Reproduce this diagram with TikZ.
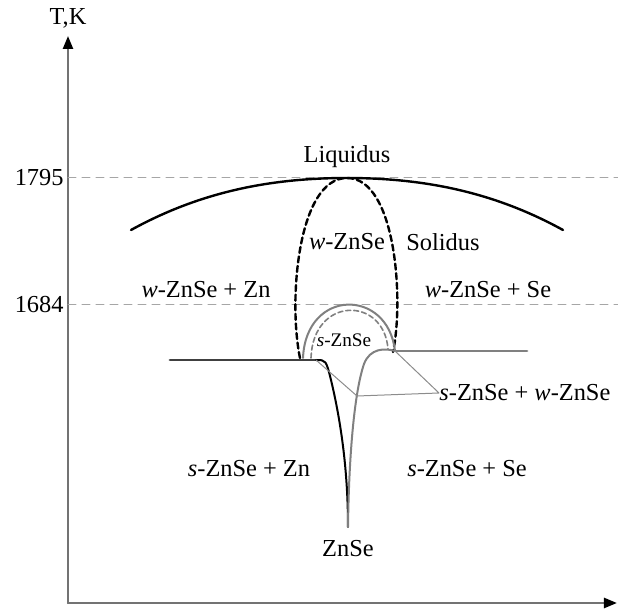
\documentclass[tikz,border=0pt]{standalone}
\usepackage{fontspec}
\setmainfont{Liberation Serif}
\usetikzlibrary{arrows.meta}
\begin{document}
\begin{tikzpicture}[x=0.5pt,y=-0.5pt,line cap=round,line join=round,
  lbl/.style={font=\fontsize{12.2}{14}\selectfont,inner sep=0pt},
  small/.style={font=\fontsize{9.6}{11}\selectfont,inner sep=0pt},
  axis/.style={draw=black!55,line width=1.2pt,-{Triangle[length=6.5pt,width=5pt,fill=black,color=black]}},
  guide/.style={draw=black!35,line width=0.5pt,dash pattern=on 4pt off 3pt},
  tieline/.style={draw=black!45,line width=0.5pt}]
  \useasboundingbox (0,0) rectangle (618,610);

  % axes
  \coordinate (origin) at (68,603);
  \coordinate (ytip) at (68,36);
  \coordinate (xtip) at (617,603);
  \draw[axis] (origin) -- (ytip);
  \draw[axis] (origin) -- (xtip);
  \node[lbl] (tk) at (68,18) {T,K};

  \node[lbl,anchor=east] (t1795) at (64,178) {1795};
  \node[lbl,anchor=east] (t1684) at (64,305) {1684};
  \coordinate (g1795) at (618,178);
  \coordinate (g1684) at (618,305);
  \draw[guide] (t1795.east) ++(4,0) -- (g1795);
  \draw[guide] (t1684.east) ++(4,0) -- (g1684);

  % liquidus
  \draw[line width=1.2pt] (131,230) .. controls (200,192) and (270,178) .. (347,178)
    .. controls (424,178) and (494,192) .. (563,230);

  % solidus of w-ZnSe
  \draw[line width=1.2pt,dash pattern=on 3pt off 1.8pt] (300,358) .. controls (288,300) and (298,178) .. (347,178)
    .. controls (396,178) and (404,300) .. (393,352);

  % s-ZnSe domes
  \draw[black!50,line width=1pt] (303,358) .. controls (306,288) and (388,288) .. (395,351);
  \draw[black!50,line width=0.8pt,dash pattern=on 2.5pt off 1.5pt] (311,358) .. controls (313,296) and (384,296) .. (388,349);

  \coordinate (lj) at (316,360);
  \coordinate (rj) at (395,351);
  \coordinate (ev) at (357,396);
  \coordinate (tip) at (348,527);

  % Zn side
  \draw[black!75,line width=1.4pt] (170,360) -- (lj);
  \draw[black,line width=1pt] (lj) .. controls (326,360) .. (331,380)
    .. controls (343,430) and (348,480) .. (tip);

  % Se side
  \draw[black!50,line width=1.4pt] (rj) -- (527,351);
  \draw[black!50,line width=1pt] (rj) .. controls (385,348) and (370,348) .. (364,364)
    .. controls (355,390) and (349,450) .. (tip);

  \node[lbl,anchor=west] (mix) at (439,393) {\textit{s}-ZnSe + \textit{w}-ZnSe};
  \draw[tieline] (lj) -- (ev) -- (mix.west) -- (rj);

  % labels
  \node[lbl] (liq) at (347,157) {Liquidus};
  \node[lbl] (wzs) at (347,242) {\textit{w}-ZnSe};
  \node[lbl] (sol) at (443,242) {Solidus};
  \node[lbl] (wzn) at (206,290) {\textit{w}-ZnSe + Zn};
  \node[lbl] (wse) at (488,290) {\textit{w}-ZnSe + Se};
  \node[small] (szs) at (344,340) {\textit{s}-ZnSe};
  \node[lbl] (szn) at (249,469) {\textit{s}-ZnSe + Zn};
  \node[lbl] (sse) at (467,469) {\textit{s}-ZnSe + Se};
  \node[lbl] (znse) at (348,549) {ZnSe};
\end{tikzpicture}
\end{document}
